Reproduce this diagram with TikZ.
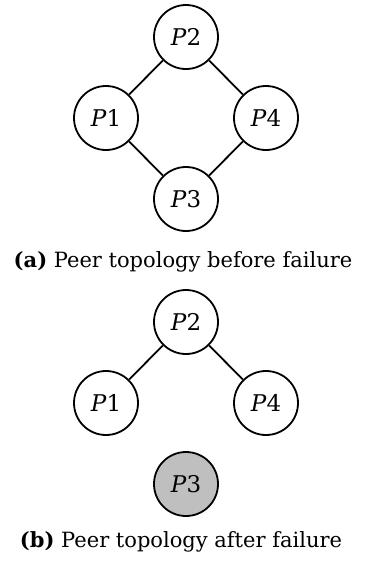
\documentclass[tikz,border=0pt]{standalone}
\usepackage{fontspec}
\setmainfont{DejaVu Serif}
\begin{document}
\begin{tikzpicture}[x=1pt,y=-1pt,
  peer/.style={circle,draw,line width=1.8pt,minimum size=64pt,inner sep=0pt,
    font=\fontsize{23}{27}\selectfont},
  failed/.style={peer,fill=black!25},
  link/.style={line width=1.8pt},
  caption/.style={font=\fontsize{21}{25}\selectfont,anchor=base}]
\useasboundingbox (0,0) rectangle (364,562);
% (a) before failure
\node[peer] (a2) at (186,37) {\textit{P}2};
\node[peer] (a1) at (106,118) {\textit{P}1};
\node[peer] (a4) at (266,118) {\textit{P}4};
\node[peer] (a3) at (186,199) {\textit{P}3};
\draw[link] (a2) -- (a1);
\draw[link] (a2) -- (a4);
\draw[link] (a1) -- (a3);
\draw[link] (a3) -- (a4);
\node[caption] (capa) at (183,267) {\textbf{(a)} Peer topology before failure};
% (b) after failure
\node[peer] (b2) at (186,322) {\textit{P}2};
\node[peer] (b1) at (106,403) {\textit{P}1};
\node[peer] (b4) at (266,403) {\textit{P}4};
\node[failed] (b3) at (186,484) {\textit{P}3};
\draw[link] (b2) -- (b1);
\draw[link] (b2) -- (b4);
\node[caption] (capb) at (181,547) {\textbf{(b)} Peer topology after failure};
\end{tikzpicture}
\end{document}
